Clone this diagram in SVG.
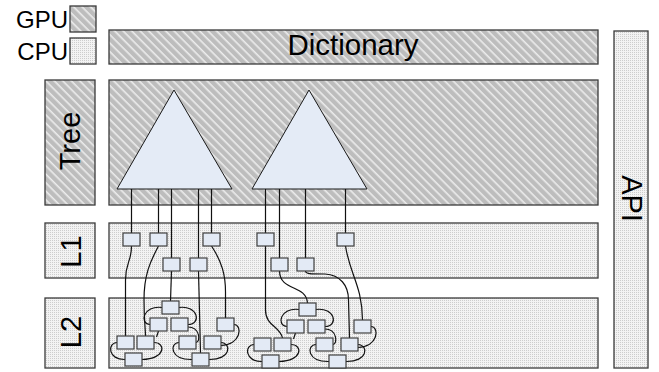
<svg xmlns="http://www.w3.org/2000/svg" width="659" height="372" viewBox="0 0 659 372">
<defs>
<pattern id="gpu" patternUnits="userSpaceOnUse" width="6" height="6" patternTransform="rotate(45)">
<rect width="6" height="6" fill="#bdbdbd"/>
<rect x="0" y="0" width="6" height="1.6" fill="#ececec"/>
</pattern>
<pattern id="cpu" patternUnits="userSpaceOnUse" width="2" height="2">
<rect width="2" height="2" fill="#f3f3f3"/>
<rect width="1" height="1" fill="#cdcdcd"/>
</pattern>
<style>
.g{fill:url(#gpu);stroke:#3a3a3a;stroke-width:1.3}
.c{fill:url(#cpu);stroke:#3a3a3a;stroke-width:1.3}
.n{fill:#e3eaf5;stroke:#404040;stroke-width:1.2}
.t{fill:#e4ebf6;stroke:#1a1a1a;stroke-width:1}
.l{fill:none;stroke:#111;stroke-width:1.2}
.tx{font-family:"Liberation Sans",Arial,sans-serif;fill:#000}
</style>
</defs>
<rect width="659" height="372" fill="#fff"/>

<g id="legend">
<text class="tx" x="68" y="28" font-size="24" text-anchor="end">GPU</text>
<rect class="g" x="70" y="6" width="26" height="26"/>
<text class="tx" x="68" y="60" font-size="24" text-anchor="end">CPU</text>
<rect class="c" x="70" y="38" width="26" height="26"/>
</g>

<g id="dictionary">
<rect class="g" x="109" y="30" width="489" height="34"/>
<text class="tx" x="353" y="55" font-size="29.5" text-anchor="middle">Dictionary</text>
</g>
<g id="tree-label">
<rect class="g" x="45" y="80" width="50" height="125"/>
<text class="tx" font-size="29" text-anchor="middle" transform="translate(80,141) rotate(-90)">Tree</text>
</g>
<g id="tree">
<rect class="g" x="109" y="80" width="489" height="125"/>
</g>
<g id="l1-label">
<rect class="c" x="45" y="223" width="50" height="55"/>
<text class="tx" font-size="29" text-anchor="middle" transform="translate(80.5,251.5) rotate(-90)">L1</text>
</g>
<g id="l1">
<rect class="c" x="109" y="223" width="489" height="55"/>
</g>
<g id="l2-label">
<rect class="c" x="45" y="298" width="50" height="70"/>
<text class="tx" font-size="29" text-anchor="middle" transform="translate(80.5,332) rotate(-90)">L2</text>
</g>
<g id="l2">
<rect class="c" x="109" y="298" width="489" height="70"/>
</g>
<g id="api">
<rect class="c" x="614" y="31" width="34" height="337"/>
<text class="tx" font-size="29" text-anchor="middle" transform="translate(622,198.5) rotate(90)">API</text>
</g>

<g id="tri1"><polygon class="t" points="174,90 117,189 232,189"/></g>
<g id="tri2"><polygon class="t" points="309,90 252,189 367,189"/></g>

<g id="connectors" class="l">
<path class="l" d="M131.5,189V233M158.5,189V233M171.5,189V258M198.5,189V258M211.5,189V233"/>
<path class="l" d="M265.5,189V233M279.5,189V258M305.5,189V258M345.5,189V233"/>
<path class="l" d="M131.5,246C131.5,262 125.5,262 125.5,280L125.5,336"/>
<path class="l" d="M158.5,246C150,262 144,275 144,300C144,320 145.5,330 145.5,336"/>
<path class="l" d="M171.5,271L170.5,301"/>
<path class="l" d="M198.5,271L200.5,353"/>
<path class="l" d="M211.5,246C222,262 225.5,275 225.5,292L225.5,318"/>
<path class="l" d="M265.5,246L265.5,310C265.5,326 280,326 282.5,338"/>
<path class="l" d="M279.5,271C280,292 306,284 307.5,303"/>
<path class="l" d="M305.5,271C305.5,274 310,274 325,274C340,275 348.5,285 348.5,300L349.5,338"/>
<path class="l" d="M345.5,246C350,275 362,285 362.5,320"/>
<g id="l2a-links">
<path class="l" d="M162,307.5C143,305 139,324 150,324.5"/>
<path class="l" d="M179,307.5C198,305 202,324 188,324.5"/>
<path class="l" d="M158.5,331L156.5,337"/>
<path class="l" d="M154,342.5C166,342.5 166,359 142,359.5"/>
<path class="l" d="M117,342.5C107,343 108,360 125,359.5"/>
<path class="l" d="M188,327C200,327 201,342 196,342.5"/>
<path class="l" d="M179,342.5C169,343 170,360 192,359.5"/>
<path class="l" d="M221,342.5C232,343 231,360 209,359.5"/>
<path class="l" d="M234,324.5C243,325 241,345 221,345.5"/>
</g>
<g id="l2b-links" transform="translate(137,2)">
<path class="l" d="M162,307.5C143,305 139,324 150,324.5"/>
<path class="l" d="M179,307.5C198,305 202,324 188,324.5"/>
<path class="l" d="M158.5,331L156.5,337"/>
<path class="l" d="M154,342.5C166,342.5 166,359 142,359.5"/>
<path class="l" d="M117,342.5C107,343 108,360 125,359.5"/>
<path class="l" d="M188,327C200,327 201,342 196,342.5"/>
<path class="l" d="M179,342.5C169,343 170,360 192,359.5"/>
<path class="l" d="M221,342.5C232,343 231,360 209,359.5"/>
<path class="l" d="M234,324.5C243,325 241,345 221,345.5"/>
</g>
</g>

<g id="n-l1-1"><rect class="n" x="123" y="233" width="17" height="13"/></g>
<g id="n-l1-2"><rect class="n" x="150" y="233" width="17" height="13"/></g>
<g id="n-l1-3"><rect class="n" x="203" y="233" width="17" height="13"/></g>
<g id="n-l1-4"><rect class="n" x="163" y="258" width="17" height="13"/></g>
<g id="n-l1-5"><rect class="n" x="190" y="258" width="17" height="13"/></g>
<g id="n-l1-6"><rect class="n" x="257" y="233" width="17" height="13"/></g>
<g id="n-l1-7"><rect class="n" x="337" y="233" width="17" height="13"/></g>
<g id="n-l1-8"><rect class="n" x="271" y="258" width="17" height="13"/></g>
<g id="n-l1-9"><rect class="n" x="297" y="258" width="17" height="13"/></g>

<g id="n-l2a-t"><rect class="n" x="162" y="301" width="17" height="13"/></g>
<g id="n-l2a-ml"><rect class="n" x="150" y="318" width="17" height="13"/></g>
<g id="n-l2a-mr"><rect class="n" x="171" y="318" width="17" height="13"/></g>
<g id="n-l2a-s"><rect class="n" x="217" y="318" width="17" height="13"/></g>
<g id="n-l2a-ll1"><rect class="n" x="117" y="336" width="17" height="13"/></g>
<g id="n-l2a-ll2"><rect class="n" x="137" y="336" width="17" height="13"/></g>
<g id="n-l2a-lr1"><rect class="n" x="179" y="336" width="17" height="13"/></g>
<g id="n-l2a-lr2"><rect class="n" x="204" y="336" width="17" height="13"/></g>
<g id="n-l2a-b1"><rect class="n" x="125" y="353" width="17" height="13"/></g>
<g id="n-l2a-b2"><rect class="n" x="192" y="353" width="17" height="13"/></g>

<g id="n-l2b-t"><rect class="n" x="299" y="303" width="17" height="13"/></g>
<g id="n-l2b-ml"><rect class="n" x="287" y="320" width="17" height="13"/></g>
<g id="n-l2b-mr"><rect class="n" x="308" y="320" width="17" height="13"/></g>
<g id="n-l2b-s"><rect class="n" x="354" y="320" width="17" height="13"/></g>
<g id="n-l2b-ll1"><rect class="n" x="254" y="338" width="17" height="13"/></g>
<g id="n-l2b-ll2"><rect class="n" x="274" y="338" width="17" height="13"/></g>
<g id="n-l2b-lr1"><rect class="n" x="316" y="338" width="17" height="13"/></g>
<g id="n-l2b-lr2"><rect class="n" x="341" y="338" width="17" height="13"/></g>
<g id="n-l2b-b1"><rect class="n" x="262" y="355" width="17" height="13"/></g>
<g id="n-l2b-b2"><rect class="n" x="329" y="355" width="17" height="13"/></g>
</svg>
